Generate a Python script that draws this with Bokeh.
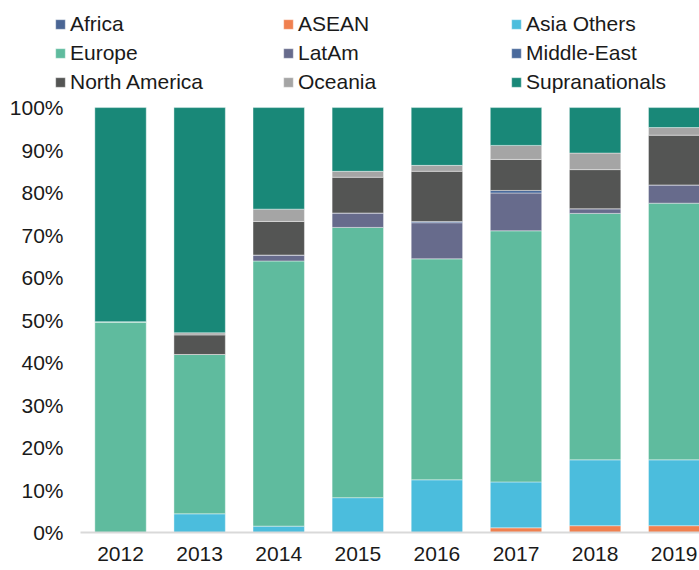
from bokeh.plotting import figure
from bokeh.models import FixedTicker, Legend, LegendItem, Range1d, ColumnDataSource
from bokeh.embed import file_html
from bokeh.resources import INLINE

years = ["2012", "2013", "2014", "2015", "2016", "2017", "2018", "2019"]
series = ["Africa", "ASEAN", "Asia Others", "Europe", "LatAm", "Middle-East",
          "North America", "Oceania", "Supranationals"]
africa = [0, 0, 0, 0, 0, 0, 0, 0]
asean = [0, 0, 0, 0, 0, 1.1, 1.6, 1.6]
asia_others = [0, 4.4, 1.5, 8.2, 12.4, 10.8, 15.5, 15.5]
europe = [49.6, 37.5, 62.4, 63.6, 52.0, 59.1, 58.0, 60.4]
latam = [0, 0, 1.4, 3.4, 8.5, 8.9, 1.1, 4.3]
middle_east = [0, 0, 0, 0, 0.3, 0.6, 0, 0]
north_america = [0, 4.6, 7.9, 8.4, 11.8, 7.3, 9.2, 11.7]
oceania = [0, 0.5, 2.9, 1.4, 1.4, 3.3, 3.9, 1.8]
supranationals = [50.4, 53.0, 23.9, 15.0, 13.6, 8.9, 10.7, 4.7]
y_ticks = [0, 10, 20, 30, 40, 50, 60, 70, 80, 90, 100]

colors = ["#4A6594", "#F0804F", "#4BBDDD", "#5FBB9E", "#676B8C", "#4A6A9C",
          "#545554", "#A5A5A5", "#198878"]

values = [africa, asean, asia_others, europe, latam, middle_east,
          north_america, oceania, supranationals]
data = {"x": list(range(len(years)))}
for name, vals in zip(series, values):
    data[name] = vals
source = ColumnDataSource(data)

FONT = "Liberation Sans"
TEXT = "#1a1a1a"

# frame spans the whole upper area so the legend sits inside it;
# the value axis only runs 0..100 and the bars start at 0
p = figure(width=699, height=570,
           x_range=Range1d(-0.835, 7.32), y_range=Range1d(0, 125.2),
           output_backend="svg", toolbar_location=None,
           min_border_left=54, min_border_right=0, min_border_top=0,
           min_border_bottom=38)

renderers = p.vbar_stack(series, x="x", width=0.65, color=colors, source=source,
                         line_color="white", line_alpha=0.4, line_width=1)

items = [LegendItem(label=n, renderers=[r]) for n, r in zip(series, renderers)]
legend = Legend(items=items, location=(0, 438), ncols=3, orientation="horizontal",
                glyph_width=12, glyph_height=12, label_standoff=4, label_width=207,
                label_height=24, spacing=5, padding=0, margin=0,
                border_line_color=None, background_fill_alpha=0,
                label_text_font=FONT, label_text_font_size="21px",
                label_text_color=TEXT)
p.add_layout(legend)

p.xgrid.visible = False
p.ygrid.visible = False
p.outline_line_color = None

p.yaxis.ticker = FixedTicker(ticks=y_ticks)
p.yaxis.major_label_overrides = {t: f"{t}%" for t in y_ticks}
p.yaxis.axis_line_color = None
p.yaxis.major_tick_line_color = None
p.yaxis.major_tick_out = 0
p.yaxis.major_tick_in = 0
p.yaxis.minor_tick_line_color = None
p.yaxis.major_label_standoff = -9
p.yaxis.major_label_text_font = FONT
p.yaxis.major_label_text_font_size = "21px"
p.yaxis.major_label_text_color = TEXT

p.xaxis.ticker = FixedTicker(ticks=list(range(len(years))))
p.xaxis.major_label_overrides = {i: y for i, y in enumerate(years)}
p.xaxis.bounds = (-0.5, len(years) - 0.5)
p.xaxis.axis_line_color = "#D9D9D9"
p.xaxis.axis_line_width = 2
p.xaxis.major_tick_line_color = None
p.xaxis.major_tick_out = 0
p.xaxis.major_tick_in = 0
p.xaxis.minor_tick_line_color = None
p.xaxis.major_label_standoff = 14
p.xaxis.major_label_text_font = FONT
p.xaxis.major_label_text_font_size = "21px"
p.xaxis.major_label_text_color = TEXT

open("out.html", "w").write(file_html(p, INLINE))
